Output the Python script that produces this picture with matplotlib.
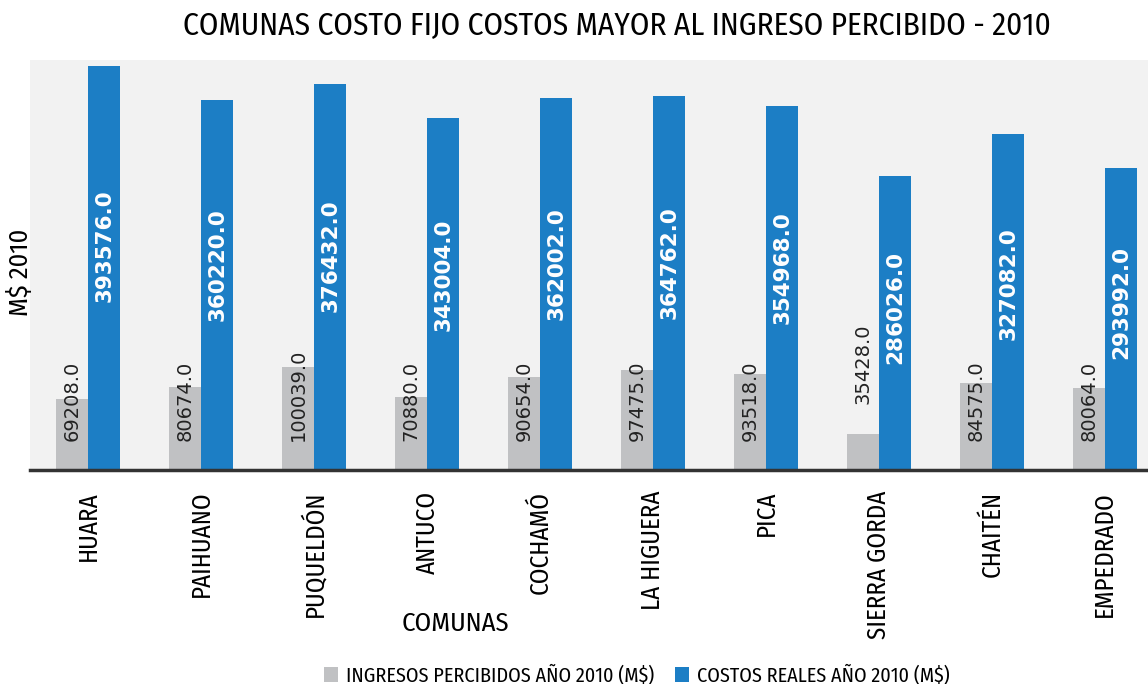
import matplotlib
matplotlib.use("Agg")
import matplotlib.pyplot as plt
import numpy as np

comunas = ["HUARA", "PAIHUANO", "PUQUELDÓN", "ANTUCO", "COCHAMÓ", "LA HIGUERA",
           "PICA", "SIERRA GORDA", "CHAITÉN", "EMPEDRADO"]
ingresos = [69208.0, 80674.0, 100039.0, 70880.0, 90654.0, 97475.0, 93518.0, 35428.0, 84575.0, 80064.0]
costos = [393576.0, 360220.0, 376432.0, 343004.0, 362002.0, 364762.0, 354968.0, 286026.0, 327082.0, 293992.0]

FONT = ['Fira Sans Condensed', 'Archivo Narrow', 'DejaVu Sans']
plt.rcParams['font.family'] = FONT
plt.rcParams['font.weight'] = 'normal'

fig = plt.figure(figsize=(11.48, 6.84), dpi=100)
ax = fig.add_axes([30/1148, 1 - 470/684, 1118/1148, 410/684])
ax.set_facecolor('#f2f2f2')

x = np.arange(len(comunas))
w = 0.285
gray = '#c0c1c3'
blue = '#1c7ec5'
b1 = ax.bar(x - w/2, ingresos, w, color=gray, label='INGRESOS PERCIBIDOS AÑO 2010 (M$)')
b2 = ax.bar(x + w/2, costos, w, color=blue, label='COSTOS REALES AÑO 2010 (M$)')

ax.set_xlim(-0.515, 9.38)
ax.set_ylim(0, 399500)

for xi, v in zip(x, ingresos):
    y = v + 29000 if v < 50000 else 28000
    ax.text(xi - w/2, y, f"{v:.1f}", rotation=90, ha='center', va='bottom',
            fontsize=14, color='#222222', family='DejaVu Sans', fontweight='normal')
for xi, v in zip(x, costos):
    ax.text(xi + w/2, v * 0.555, f"{v:.1f}", rotation=90, ha='center', va='center',
            fontsize=15.5, color='white', fontweight='bold', family='DejaVu Sans')

for s in ['top', 'right', 'left']:
    ax.spines[s].set_visible(False)
ax.spines['bottom'].set_color('#333333')
ax.spines['bottom'].set_linewidth(2.5)
ax.set_yticks([])
ax.set_xticks(x)
ax.set_xticklabels(comunas, rotation=90, fontsize=18)
ax.tick_params(axis='x', length=0, pad=15)

fig.text(617/1148, 1 - 25/684, "COMUNAS COSTO FIJO COSTOS MAYOR AL INGRESO PERCIBIDO - 2010",
         ha='center', va='center', fontsize=22.5)
fig.text(20/1148, 1 - 272/684, "M$ 2010", rotation=90, ha='center', va='center', fontsize=19)
fig.text(455/1148, 1 - 624/684, "COMUNAS", ha='center', va='center', fontsize=19)

fig.legend(handles=[b1, b2], loc='center', bbox_to_anchor=(637/1148, 1 - 675/684),
           ncol=2, frameon=False, fontsize=14.5, handlelength=0.7, handleheight=0.7,
           handletextpad=0.4, columnspacing=1.0)

fig.savefig("out.png", dpi=100)
